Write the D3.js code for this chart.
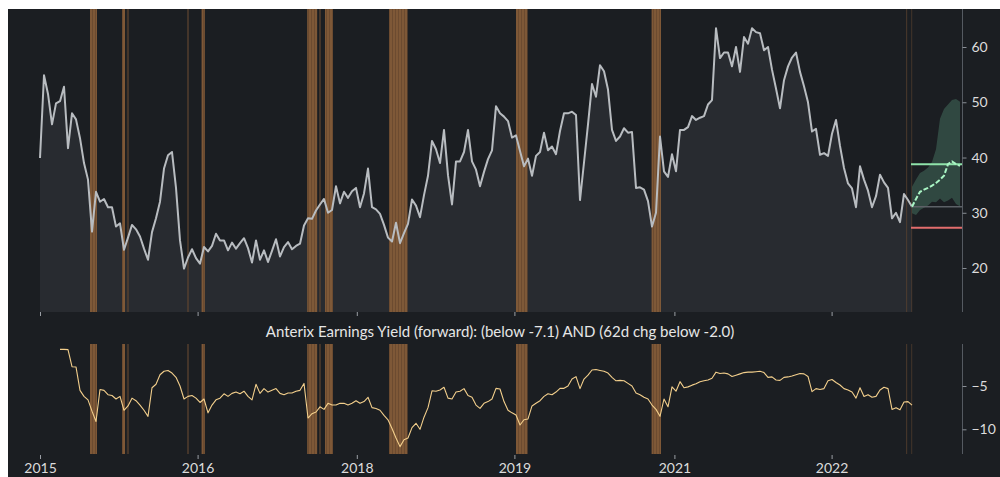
<!DOCTYPE html>
<html><head><meta charset="utf-8">
<script src="https://cdn.jsdelivr.net/npm/d3@7"></script>
<style>html,body{margin:0;padding:0;background:#fff;} svg{display:block;}</style>
</head><body><svg id="c" width="1000" height="477"></svg>
<script>
// ---- data (x = step index) ----
const yieldValues = [
39.9,54.9,51.5,46.0,49.8,50.2,52.8,41.7,48.0,46.9,
43.5,39.0,36.0,26.6,33.8,32.0,32.5,31.0,31.0,27.5,
28.1,23.3,25.5,27.8,27.0,25.7,23.5,21.5,26.5,29.0,
32.0,38.0,40.4,41.0,34.5,25.0,19.9,21.9,23.4,21.8,
20.8,23.8,23.0,24.0,26.2,25.0,25.0,23.2,24.6,23.5,
24.5,25.4,23.6,21.0,25.0,21.5,23.2,21.1,23.1,25.2,
22.1,23.8,24.7,23.4,24.0,24.4,27.7,29.0,28.9,30.4,
31.5,32.5,30.0,30.5,34.8,31.7,33.8,32.7,33.9,34.5,
31.0,33.5,38.0,31.0,30.6,29.8,27.8,25.5,24.8,28.2,
24.5,26.3,28.0,32.4,31.3,29.2,33.2,36.7,43.0,41.5,
39.0,45.0,36.8,31.5,39.3,39.3,41.0,45.0,39.3,37.8,
34.8,37.4,39.7,41.3,49.3,48.0,47.4,46.6,43.6,44.0,
41.2,38.4,39.8,36.7,40.3,41.0,44.5,41.3,42.0,40.6,
44.8,48.0,48.0,48.3,47.7,32.3,39.1,46.0,53.3,51.0,
56.7,55.6,52.3,45.0,43.0,43.8,45.3,44.5,44.6,34.5,
34.6,34.2,32.1,27.5,30.0,43.8,37.5,36.5,40.6,37.5,
45.0,45.0,45.5,47.5,46.8,47.2,47.5,49.6,50.4,63.4,
58.0,59.0,59.0,56.5,60.0,55.5,61.8,60.6,63.4,62.7,
62.5,59.4,60.0,55.9,52.5,48.9,54.0,56.5,58.1,59.0,
55.5,52.9,50.0,44.7,45.2,40.5,40.8,40.3,44.3,46.8,
42.1,38.1,35.3,34.4,31.0,38.4,36.0,34.0,31.0,33.0,
36.9,35.5,34.5,29.0,30.0,28.3,33.4,32.3,31.1
];
const signalValues = [
null,null,null,null,null,-0.77,-0.77,-0.8,-2.77,-2.8,
-5.5,-6.2,-6.6,-7.9,-9.1,-5.4,-5.5,-6.0,-6.1,-6.5,
-6.2,-7.8,-7.3,-6.4,-6.7,-7.2,-7.8,-8.5,-5.2,-4.8,
-3.7,-3.3,-3.2,-3.5,-4.0,-5.0,-6.5,-6.2,-6.1,-6.4,
-6.9,-6.5,-8.1,-7.2,-6.6,-6.4,-5.9,-6.2,-5.85,-5.7,
-5.9,-5.6,-6.2,-6.6,-4.8,-5.85,-5.3,-5.7,-5.5,-5.3,
-5.85,-6.0,-5.8,-5.8,-5.6,-5.5,-4.7,-8.7,-8.2,-8.0,
-7.4,-7.7,-7.0,-7.2,-7.2,-7.0,-7.0,-7.2,-7.0,-6.7,
-7.0,-6.8,-6.3,-7.5,-7.6,-7.8,-8.4,-8.9,-9.9,-11.0,
-12.0,-11.2,-11.0,-9.8,-9.3,-10.0,-8.6,-7.5,-5.55,-5.6,
-5.46,-5.15,-6.4,-6.5,-5.7,-5.6,-5.3,-6.1,-6.3,-7.2,
-7.58,-7.0,-6.8,-6.5,-5.27,-5.35,-6.8,-7.8,-8.1,-8.35,
-9.5,-8.9,-8.8,-7.3,-7.0,-6.7,-6.2,-5.9,-6.0,-5.7,
-5.27,-5.27,-5.0,-4.2,-3.92,-5.3,-4.2,-3.75,-3.15,-3.1,
-3.2,-3.3,-3.5,-4.0,-4.4,-4.35,-4.4,-4.7,-5.0,-5.8,
-6.0,-6.3,-6.5,-7.2,-7.7,-8.5,-6.5,-7.4,-5.1,-5.6,
-4.5,-5.2,-5.1,-4.9,-4.75,-4.5,-4.4,-4.3,-4.1,-3.4,
-3.55,-3.5,-3.6,-3.9,-3.75,-3.6,-3.45,-3.4,-3.4,-3.35,
-3.3,-3.45,-4.0,-3.95,-4.3,-4.35,-4.0,-3.95,-3.85,-3.7,
-3.55,-3.6,-3.9,-5.65,-5.3,-5.4,-5.3,-4.4,-4.25,-4.6,
-4.88,-5.3,-5.45,-5.7,-6.4,-5.2,-6.2,-6.0,-6.3,-6.2,
-5.46,-5.15,-5.3,-7.7,-7.5,-7.75,-6.85,-6.8,-7.2
];
const tickPositions = [0, 39.4, 79.2, 118.6, 158.6, 197.9];
const tickLabels = ["2015", "2016", "2018", "2019", "2021", "2022"];
const topTicks = [20, 30, 40, 50, 60];
const bottomTicks = [-5, -10];
const bandStart = [12.5, 20.5, 21.7, 36.75, 40.4, 66.8, 69.75, 71.25, 87.25, 119.0, 152.9, 216.5, 217.8];
const bandEnd   = [14.25, 21.25, 22.25, 37.25, 41.2, 69.3, 70.25, 73.25, 91.9, 121.9, 155.25, 216.8, 218.05];
const bandKind  = ["on","on","faint","faint","on","on","faint","on","on","on","on","faint","faint"];
const projSteps = [218,219,220,221,222,223,224,225,226,227,228,229,230];
const projUpper = [34.7,36.0,37.2,37.6,38.2,39.2,41.5,47.0,48.8,49.6,50.4,50.6,50.1];
const projLower = [29.9,29.6,30.5,30.9,31.3,32.0,31.9,32.6,31.9,32.2,32.7,31.6,31.2];
const projMedian = [31.1,32.5,33.8,34.2,34.5,34.9,35.4,36.0,36.7,38.8,39.3,38.8,38.5];
const levelValues = [38.8, 31.1, 27.3];
const levelColors = ["#8fe3aa", "#5d6167", "#e26d6d"];
const titleText = "Anterix Earnings Yield (forward): (below -7.1) AND (62d chg below -2.0)";

// ---- chart ----
const svg = d3.select("#c");
const FONT = "Lato, 'Open Sans', sans-serif";
svg.append("rect").attr("x", 8).attr("y", 9).attr("width", 992).attr("height", 468).attr("fill", "#1b1e22");

const defs = svg.append("defs");
const pat = defs.append("pattern").attr("id", "stripe").attr("patternUnits", "userSpaceOnUse")
  .attr("width", 3).attr("height", 10);
pat.append("rect").attr("width", 3).attr("height", 10).attr("fill", "#815a38");
pat.append("rect").attr("x", 2).attr("width", 1).attr("height", 10).attr("fill", "#6e4c30");

const x = d3.scaleLinear().domain([0, 230.5]).range([40, 962]);
const yTop = d3.scaleLinear().domain([12.04, 66.88]).range([312, 9]);
const yBot = d3.scaleLinear().domain([-12.85, -0.15]).range([454, 344]);

// top area + line
const area = d3.area().x((d, i) => x(i)).y0(yTop(12.04)).y1(d => yTop(d));
svg.append("path").datum(yieldValues).attr("d", area).attr("fill", "#282b30");

function drawBands(y0, y1) {
  bandStart.forEach((s, k) => {
    const faint = bandKind[k] === "faint";
    svg.append("rect")
      .attr("x", x(s)).attr("y", y0)
      .attr("width", Math.max(1, x(bandEnd[k]) - x(s)))
      .attr("height", y1 - y0)
      .attr("fill", faint ? "#5a4230" : "url(#stripe)")
      .attr("opacity", faint ? 0.65 : 0.97);
  });
}
drawBands(9, 312);

svg.append("path").datum(yieldValues)
  .attr("d", d3.line().x((d, i) => x(i)).y(d => yTop(d)))
  .attr("fill", "none").attr("stroke", "#b8bcc0").attr("stroke-width", 2).attr("stroke-linejoin", "round");

// projection cone
const cone = projSteps.map((s, k) => ({s, lo: projLower[k], hi: projUpper[k], m: projMedian[k]}));
svg.append("path").datum(cone)
  .attr("d", d3.area().x(d => x(d.s)).y0(d => yTop(d.lo)).y1(d => yTop(d.hi)))
  .attr("fill", "#4b7c69").attr("opacity", 0.45);
levelValues.forEach((v, k) => {
  svg.append("line").attr("x1", x(217.75)).attr("x2", x(230.5))
    .attr("y1", yTop(v)).attr("y2", yTop(v))
    .attr("stroke", levelColors[k]).attr("stroke-width", k === 1 ? 1.5 : 2);
});
svg.append("path").datum(cone)
  .attr("d", d3.line().x(d => x(d.s)).y(d => yTop(d.m)))
  .attr("fill", "none").attr("stroke", "#a9f5c4").attr("stroke-width", 2).attr("stroke-dasharray", "5,2");

// top right axis
const gTop = svg.append("g").attr("transform", "translate(962.5,0)")
  .call(d3.axisRight(yTop).tickValues(topTicks).tickSize(4).tickSizeOuter(0).tickPadding(5));
gTop.select(".domain").attr("stroke", "#555a61").attr("d", "M0,9V312");
gTop.selectAll(".tick line").attr("stroke", "#8a8f96");
gTop.selectAll("text").attr("fill", "#dcdcdc").style("font-family", FONT).style("font-size", "14px");

// top x ticks
const gTopX = svg.append("g").attr("transform", "translate(0,312)")
  .call(d3.axisBottom(x).tickValues(tickPositions).tickSize(4).tickFormat(""));
gTopX.select(".domain").remove();
gTopX.selectAll(".tick line").attr("stroke", "#9a9ea4");

// title
svg.append("text").attr("x", 500).attr("y", 337).attr("text-anchor", "middle")
  .attr("fill", "#e6e6e6").style("font-family", FONT).style("font-size", "15px").text(titleText);

// bottom panel
drawBands(344, 454);
svg.append("path").datum(signalValues)
  .attr("d", d3.line().defined(d => d !== null).x((d, i) => x(i)).y(d => yBot(d)))
  .attr("fill", "none").attr("stroke", "#f3cf8c").attr("stroke-width", 1.1).attr("stroke-linejoin", "round");

const gBot = svg.append("g").attr("transform", "translate(962.5,0)")
  .call(d3.axisRight(yBot).tickValues(bottomTicks).tickSize(4).tickSizeOuter(0).tickPadding(5));
gBot.select(".domain").attr("stroke", "#555a61").attr("d", "M0,344V454");
gBot.selectAll(".tick line").attr("stroke", "#8a8f96");
gBot.selectAll("text").attr("fill", "#dcdcdc").style("font-family", FONT).style("font-size", "14px");

const gBotX = svg.append("g").attr("transform", "translate(0,455)")
  .call(d3.axisBottom(x).tickValues(tickPositions).tickSize(4).tickPadding(4)
    .tickFormat((d, i) => tickLabels[i]));
gBotX.select(".domain").remove();
gBotX.selectAll(".tick line").attr("stroke", "#9a9ea4");
gBotX.selectAll("text").attr("fill", "#dcdcdc").style("font-family", FONT).style("font-size", "14px");
</script></body></html>
